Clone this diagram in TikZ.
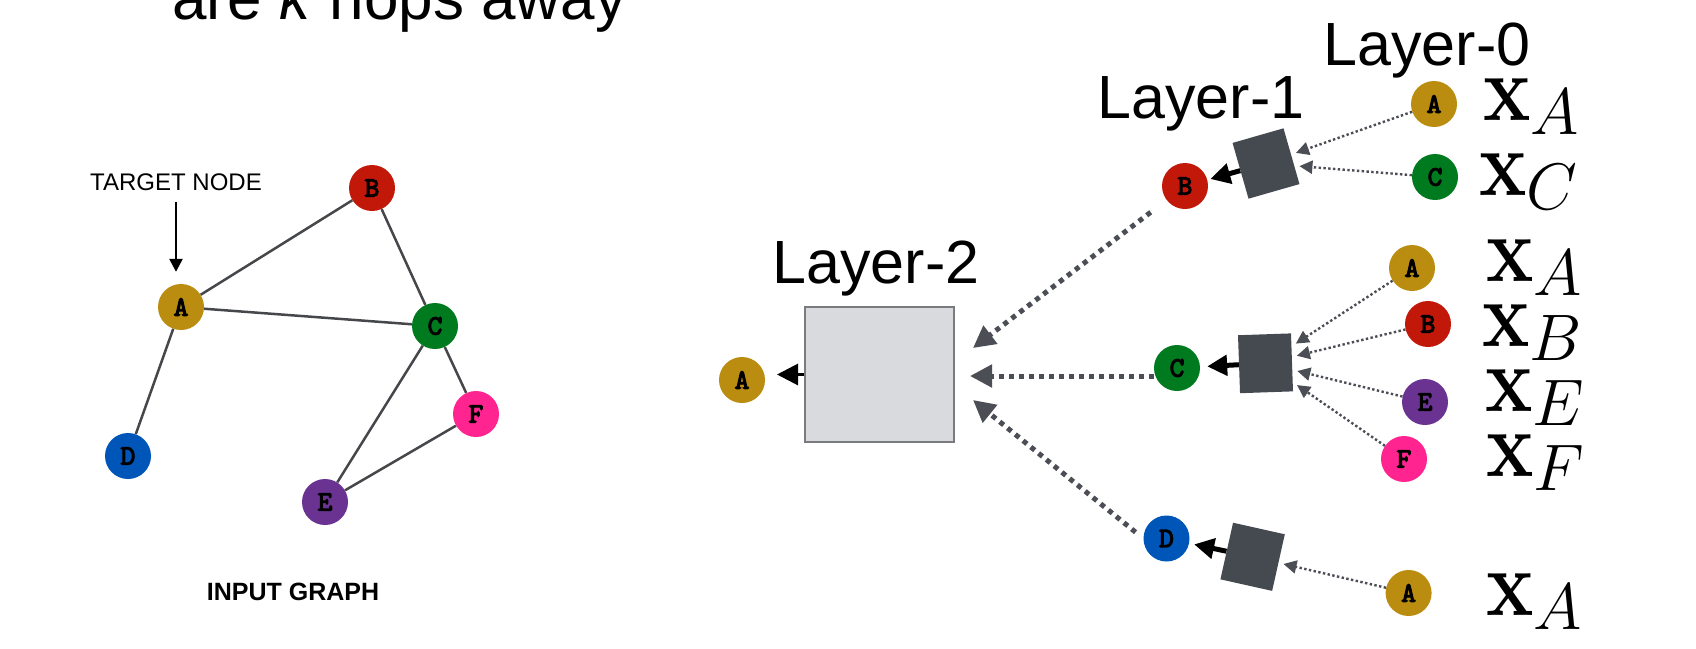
\RequirePackage{fix-cm}
\documentclass[tikz,border=0pt]{standalone}
\usepackage[no-math]{fontspec}
\setmainfont{Liberation Sans}
\newfontfamily\courb{lmmono10-regular.otf}[FakeBold=4]
\usepackage{graphicx}
\usetikzlibrary{arrows.meta}
\definecolor{colA}{HTML}{BA8C10}
\definecolor{colB}{HTML}{C2180A}
\definecolor{colC}{HTML}{007A1F}
\definecolor{colD}{HTML}{0055B8}
\definecolor{colE}{HTML}{6A3391}
\definecolor{colF}{HTML}{FF2490}
\definecolor{edgegray}{HTML}{45474A}
\definecolor{dotgray}{HTML}{4B4E55}
\definecolor{sqgray}{HTML}{454950}
\definecolor{boxfill}{HTML}{D9DADE}
\definecolor{boxborder}{HTML}{7A7B7E}
\newcommand{\featx}[1]{$\scalebox{0.85}[1]{$\mathbf{x}$}_{#1}$}
\tikzset{
  gnode/.style={circle, fill=#1, minimum size=46pt, inner sep=0pt,
    font=\fontsize{28}{28}\selectfont\courb},
  gedge/.style={draw=edgegray, line width=2.5pt},
  agg/.style={rectangle, fill=sqgray, minimum width=53pt, minimum height=58pt, inner sep=0pt},
  smalldot/.style={draw=dotgray, line width=2.4pt, dash pattern=on 2.4pt off 2.4pt,
    -{Triangle[length=13pt,width=13pt]}, shorten >=5pt},
  bigdot/.style={draw=dotgray, line width=5pt, dash pattern=on 5pt off 5pt,
    -{Triangle[length=22pt,width=22pt]}},
  blackarr/.style={draw=black, line width=5pt, -{Triangle[length=20pt,width=20pt]}},
  outarr/.style={draw=black, line width=3pt, -{Triangle[length=21pt,width=21pt]}},
  tarr/.style={draw=black, line width=2.5pt, -{Triangle[length=13pt,width=13pt]}},
  layerlbl/.style={anchor=base, inner sep=0pt, font=\fontsize{61}{61}\selectfont},
  xlbl/.style={anchor=base west, inner sep=0pt, font=\fontsize{94}{94}\selectfont},
}
\begin{document}
\begin{tikzpicture}[x=1pt, y=-1pt]
\useasboundingbox (0,0) rectangle (1696,648);
\clip (0,0) rectangle (1696,648);
\fill[white] (0,0) rectangle (1696,648);

% cut-off title line
\node[anchor=base west, inner sep=0pt, font=\fontsize{62}{62}\selectfont] (ttl) at (172,19.5) {are \textit{k} hops away};

% ---------- input graph ----------
\node[gnode=colA] (gA) at (181,307) {A};
\node[gnode=colB] (gB) at (372,188) {B};
\node[gnode=colC] (gC) at (435,326) {C};
\node[gnode=colD] (gD) at (128,456) {D};
\node[gnode=colE] (gE) at (325,502) {E};
\node[gnode=colF] (gF) at (476,414) {F};
\draw[gedge] (gA) -- (gB);
\draw[gedge] (gA) -- (gC);
\draw[gedge] (gA) -- (gD);
\draw[gedge] (gB) -- (gC);
\draw[gedge] (gC) -- (gE);
\draw[gedge] (gC) -- (gF);
\draw[gedge] (gE) -- (gF);

\node[anchor=base, inner sep=0pt, font=\fontsize{24}{24}\selectfont] (tgt) at (176,190.7) {TARGET NODE};
\draw[tarr, shorten <=11pt, shorten >=12pt] (tgt.south) -- (tgt.south |- gA.north);
\node[anchor=base, inner sep=0pt, font=\fontsize{25}{25}\selectfont\bfseries] (ig) at (293,600.7) {INPUT GRAPH};

% ---------- computation graph ----------
\node[layerlbl] (lay2) at (876,283) {Layer-2};
\node[layerlbl] (lay1) at (1201,118) {Layer-1};
\node[layerlbl] (lay0) at (1427,65) {Layer-0};

\node[draw=boxborder, fill=boxfill, line width=1.2pt, minimum width=149pt, minimum height=135pt, inner sep=0pt] (big) at (879.5,374.5) {};
\node[gnode=colA] (outA) at (742,380) {A};
\draw[outarr, shorten >=35pt] (big.west) -- (big.west -| outA);

% layer-1 nodes
\node[gnode=colB] (B1) at (1185,186) {B};
\node[gnode=colC] (C1) at (1177,368) {C};
\node[gnode=colD] (D1) at (1166.5,538.5) {D};

\coordinate (in1) at (973,348);
\coordinate (in2) at (970,376);
\coordinate (in3) at (973,400);
\draw[bigdot, shorten <=20pt] (B1) -- (in1);
\draw[bigdot] (C1.west |- in2) -- (in2);
\draw[bigdot, shorten <=10pt] (D1.west) -- (in3);

% aggregation squares
\node[agg, rotate=16] (sqB) at (1266,163.5) {};
\node[agg, rotate=2] (sqC) at (1265.5,363.3) {};
\node[agg, rotate=-12.6] (sqD) at (1252.6,556.8) {};
\draw[blackarr, shorten >=3pt] (sqB) -- (B1);
\draw[blackarr, shorten >=7pt] (sqC) -- (C1);
\draw[blackarr, shorten >=5pt] (sqD) -- (D1);

% layer-0 nodes
\node[gnode=colA] (A0b) at (1434,104) {A};
\node[gnode=colC] (C0b) at (1435,177) {C};
\node[gnode=colA] (A0c) at (1412,268) {A};
\node[gnode=colB] (B0c) at (1428,324) {B};
\node[gnode=colE] (E0c) at (1425,402) {E};
\node[gnode=colF] (F0c) at (1404,459) {F};
\node[gnode=colA] (A0d) at (1408.6,593) {A};

\draw[smalldot] (A0b) -- (sqB);
\draw[smalldot] (C0b) -- (sqB);
\draw[smalldot] (A0c) -- (sqC);
\draw[smalldot] (B0c) -- (sqC);
\draw[smalldot] (E0c) -- (sqC);
\draw[smalldot] (F0c) -- (sqC);
\draw[smalldot] (A0d) -- (sqD);

% feature labels
\node[xlbl] (xA1) at (1483,120) {\featx{A}};
\node[xlbl] (xC1) at (1479,195) {\featx{C}};
\node[xlbl] (xA2) at (1486,281.7) {\featx{A}};
\node[xlbl] (xB2) at (1482,346.7) {\featx{B}};
\node[xlbl] (xE2) at (1485,411.7) {\featx{E}};
\node[xlbl] (xF2) at (1486,476.7) {\featx{F}};
\node[xlbl] (xA3) at (1486,615) {\featx{A}};
\end{tikzpicture}
\end{document}
